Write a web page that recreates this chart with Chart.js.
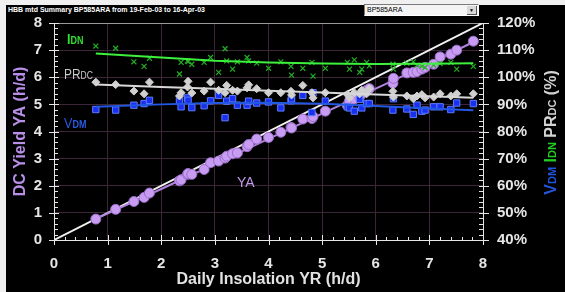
<!DOCTYPE html>
<html><head><meta charset="utf-8">
<script src="https://cdn.jsdelivr.net/npm/chart.js@4.4.0/dist/chart.umd.min.js"></script>
<style>
html,body{margin:0;padding:0;background:#f0f0f0;width:565px;height:292px;overflow:hidden;}
#panel{position:absolute;left:6px;top:5px;width:559px;height:287px;background:#000;}
#title{position:absolute;left:8px;top:6px;font:bold 7px "Liberation Sans",Arial,sans-serif;color:#fff;white-space:nowrap;line-height:8px;}
#dd{position:absolute;left:364px;top:4px;width:113px;height:10px;background:#f4f4f4;border-top:1px solid #7a7a7a;border-left:1px solid #7a7a7a;border-right:1px solid #fff;border-bottom:1px solid #fff;font:7px "Liberation Sans",Arial,sans-serif;color:#000;line-height:10px;}
#dd span{position:absolute;left:2px;top:0;}
#btn{position:absolute;right:1px;top:1px;width:9px;height:8px;background:#d8d8d8;border-right:1px solid #555;border-bottom:1px solid #555;font-size:5px;line-height:8px;text-align:center;}
#c{position:absolute;left:0;top:0;}
</style></head>
<body>
<div id="panel"></div>
<div id="title">HBB mtd Summary BP585ARA from 19-Feb-03 to 16-Apr-03</div>
<div id="dd"><span>BP585ARA</span><div id="btn">▼</div></div>
<canvas id="c" width="565" height="292"></canvas>
<script>
// ---- data ----
const xYR = [0.78,1.15,1.49,1.68,1.78,2.34,2.37,2.49,2.50,2.57,2.80,2.92,3.07,3.19,3.22,3.33,3.42,3.60,3.63,3.78,4.00,4.23,4.42,4.43,4.64,4.81,4.83,5.06,5.47,5.51,5.60,5.70,5.74,5.83,5.88,6.32,6.33,6.58,6.70,6.77,6.86,6.92,7.08,7.20,7.40,7.51,7.82];
const yieldYA = [0.77,1.13,1.42,1.57,1.73,2.18,2.22,2.42,2.45,2.42,2.60,2.85,2.91,3.02,3.09,3.18,3.21,3.44,3.52,3.72,3.78,3.97,4.15,4.13,4.46,4.48,4.55,4.75,4.97,5.12,5.20,5.30,5.39,5.52,5.58,5.78,5.96,6.16,6.18,6.21,6.30,6.36,6.48,6.75,6.85,7.00,7.33];
const iDN = [111.5,110.7,105.7,104.0,107.0,101.2,105.5,106.0,105.8,104.8,105.5,107.3,101.8,110.5,106.0,103.0,105.7,107.3,106.0,105.2,103.3,105.7,104.0,100.8,103.3,105.5,100.4,103.3,105.5,103.0,106.4,101.8,103.0,105.5,104.2,104.8,103.0,105.2,105.7,104.5,104.0,103.6,104.5,105.0,105.5,103.0,104.0];
const prDC = [98.2,97.3,94.9,93.9,98.2,93.1,94.3,96.4,98.5,94.2,94.9,98.2,95.2,94.3,97.0,95.2,94.9,96.1,97.2,95.8,94.3,94.3,94.8,93.5,97.0,94.3,92.4,94.3,93.6,92.4,94.3,93.9,95.2,93.9,95.8,94.8,92.7,93.1,92.1,93.1,93.6,92.4,92.7,93.9,93.1,93.9,93.9];
const vDM = [88.1,87.9,89.7,90.3,91.5,91.3,89.1,92.4,91.5,88.8,89.5,91.3,93.3,85.1,91.2,92.1,89.7,89.7,91.2,90.5,90.9,88.7,91.3,92.0,93.3,87.0,94.3,91.2,89.1,88.7,87.5,91.9,88.7,90.3,90.3,87.9,92.1,88.3,86.3,89.7,87.5,87.9,89.1,89.1,88.1,90.5,90.3];
const trendX = [0.78,2,3,4,5,6,7,7.82];
const yaTrend = [0.78,1.88,2.80,3.73,4.66,5.58,6.50,7.30];
const idnTrend = [108.8,107.3,106.1,105.4,105.1,104.9,105.0,105.2];
const prTrend = [97.3,96.45,95.75,95.05,94.35,93.65,92.95,92.4];
const vdmTrend = [89.1,90.0,90.5,90.6,90.2,89.4,88.5,87.8];
const refX = [0,8];
const refY = [0,8];
const xTickVals = [0,1,2,3,4,5,6,7,8];
const yTickVals = [0,1,2,3,4,5,6,7,8];
const pctTickVals = [40,50,60,70,80,90,100,110,120];

const pts = (xs, ys) => xs.map((x, i) => ({x: x, y: ys[i]}));
const FONT = '"Liberation Sans", Arial, sans-serif';
const tickFont = {family: FONT, size: 15, weight: 'bold'};
const GRID = '#3d2639';

const deco = {
  id: 'deco',
  afterDraw(chart) {
    const {ctx, chartArea: a, scales} = chart;
    const x = scales.x, y = scales.y, y2 = scales.y2;
    ctx.save();
    ctx.strokeStyle = '#e6e6e6';
    ctx.lineWidth = 1;
    ctx.beginPath();
    for (let i = 0; i <= 40; i++) {
      const major = i % 5 === 0;
      const px = Math.round(x.getPixelForValue(i * 0.2)) + 0.5;
      ctx.moveTo(px, major ? a.bottom - 5 : a.bottom - 3);
      ctx.lineTo(px, major ? a.bottom + 5 : a.bottom);
      const py = Math.round(y.getPixelForValue(i * 0.2)) + 0.5;
      ctx.moveTo(major ? a.left - 5 : a.left, py);
      ctx.lineTo(major ? a.left + 5 : a.left + 4, py);
      const pr = Math.round(y2.getPixelForValue(40 + i * 2)) + 0.5;
      ctx.moveTo(a.right - 4, pr);
      ctx.lineTo(major ? a.right + 6 : a.right, pr);
    }
    ctx.stroke();

    // multi-size label helper
    function seg(parts, x0, base, sx) {
      ctx.save();
      ctx.translate(x0, base);
      ctx.scale(sx, 1);
      let cx = 0;
      for (const p of parts) {
        ctx.font = (p[2] || 'normal') + ' ' + p[1] + 'px ' + FONT;
        ctx.fillStyle = p[3];
        ctx.fillText(p[0], cx, 0);
        cx += ctx.measureText(p[0]).width;
      }
      ctx.restore();
    }
    ctx.textBaseline = 'alphabetic';
    ctx.textAlign = 'left';
    seg([['I', 14, 'bold', '#2fe02f'], ['DN', 10, 'bold', '#2fe02f']], a.left + 13, a.top + 21, 0.9);
    seg([['PR', 14, 'normal', '#c8c8c8'], ['DC', 10, 'normal', '#c8c8c8']], a.left + 10, a.top + 56, 0.85);
    seg([['V', 14, 'normal', '#2a5ae0'], ['DM', 10, 'bold', '#2a5ae0']], a.left + 10, a.top + 105, 0.9);
    seg([['YA', 14, 'normal', '#c49ae8']], a.left + 183, a.top + 164, 1);

    // right multi-colour axis title
    const parts = [['V', 16, 'bold', '#2255dd'], ['DM', 11, 'bold', '#2255dd'], [' ', 16, 'bold', '#000'],
                   ['I', 16, 'bold', '#22cc22'], ['DN', 11, 'bold', '#22cc22'], [' ', 16, 'bold', '#000'],
                   ['PR', 16, 'bold', '#d4d4d4'], ['DC', 11, 'bold', '#d4d4d4'], [' (%)', 16, 'bold', '#d4d4d4']];
    let total = 0;
    for (const p of parts) { ctx.font = p[2] + ' ' + p[1] + 'px ' + FONT; total += ctx.measureText(p[0]).width; }
    ctx.save();
    ctx.translate(556, (a.top + a.bottom) / 2 + 1);
    ctx.rotate(-Math.PI / 2);
    seg(parts, -total / 2, 0, 1);
    ctx.restore();
    ctx.restore();
  }
};

new Chart(document.getElementById('c'), {
  type: 'scatter',
  data: {
    datasets: [
      {data: pts(refX, refY), yAxisID: 'y', showLine: true, borderColor: '#f2f2f2', borderWidth: 2, pointRadius: 0, order: 9},
      {data: pts(trendX, yaTrend), yAxisID: 'y', showLine: true, borderColor: '#b083e0', borderWidth: 2, pointRadius: 0, order: 8},
      {data: pts(xYR, yieldYA), yAxisID: 'y', pointStyle: 'circle', pointRadius: 5, backgroundColor: '#c79cf2', borderColor: '#9a6cc8', borderWidth: 1, order: 7},
      {data: pts(xYR, vDM), yAxisID: 'y2', pointStyle: 'rect', pointRadius: 4.5, backgroundColor: '#1a30f0', borderColor: '#5a7cff', borderWidth: 1, order: 6},
      {data: pts(trendX, vdmTrend), yAxisID: 'y2', showLine: true, borderColor: '#2358e0', borderWidth: 2, pointRadius: 0, order: 5},
      {data: pts(xYR, prDC), yAxisID: 'y2', pointStyle: 'rectRot', pointRadius: 4, backgroundColor: '#d0d0d0', borderColor: '#d0d0d0', borderWidth: 1, order: 4},
      {data: pts(trendX, prTrend), yAxisID: 'y2', showLine: true, borderColor: '#d8d8d8', borderWidth: 2, pointRadius: 0, order: 3},
      {data: pts(xYR, iDN), yAxisID: 'y2', pointStyle: 'crossRot', pointRadius: 3.5, borderColor: '#22b022', borderWidth: 1.2, order: 2},
      {data: pts(trendX, idnTrend), yAxisID: 'y2', showLine: true, borderColor: '#3cf03c', borderWidth: 2, pointRadius: 0, order: 1}
    ]
  },
  options: {
    responsive: false,
    animation: false,
    devicePixelRatio: 1,
    layout: {padding: {top: 21, left: 0, right: 0, bottom: 0}},
    plugins: {legend: {display: false}, tooltip: {enabled: false}},
    scales: {
      x: {
        type: 'linear', min: 0, max: 8,
        afterBuildTicks: s => { s.ticks = xTickVals.map(v => ({value: v})); },
        afterFit: s => { s.height = 52; },
        ticks: {color: '#e6e6e6', font: tickFont, padding: 15, maxRotation: 0, autoSkip: false},
        grid: {color: GRID, drawTicks: false},
        border: {color: '#e6e6e6', width: 1},
        title: {display: true, text: 'Daily Insolation YR (h/d)', color: '#e2e2e2', font: {family: FONT, size: 16, weight: 'bold'}, padding: {top: 0, bottom: 3}}
      },
      y: {
        type: 'linear', position: 'left', min: 0, max: 8,
        afterBuildTicks: s => { s.ticks = yTickVals.map(v => ({value: v})); },
        afterFit: s => { s.width = 54; },
        ticks: {color: '#e6e6e6', font: tickFont, padding: 12, autoSkip: false},
        grid: {color: c => (c.tick && c.tick.value === 8) ? '#9a9a9a' : GRID, drawTicks: false},
        border: {color: '#e6e6e6', width: 1},
        title: {display: true, text: 'DC Yield YA (h/d)', color: '#b98ee8', font: {family: FONT, size: 16, weight: 'bold'}, padding: {top: 11, bottom: 0}}
      },
      y2: {
        type: 'linear', position: 'right', min: 40, max: 120,
        afterBuildTicks: s => { s.ticks = pctTickVals.map(v => ({value: v})); },
        afterFit: s => { s.width = 82; },
        ticks: {color: '#e6e6e6', font: tickFont, padding: 14, autoSkip: false, callback: v => v + '%'},
        grid: {display: false, drawTicks: false},
        border: {color: '#e6e6e6', width: 1}
      }
    }
  },
  plugins: [deco]
});
</script>
</body></html>
